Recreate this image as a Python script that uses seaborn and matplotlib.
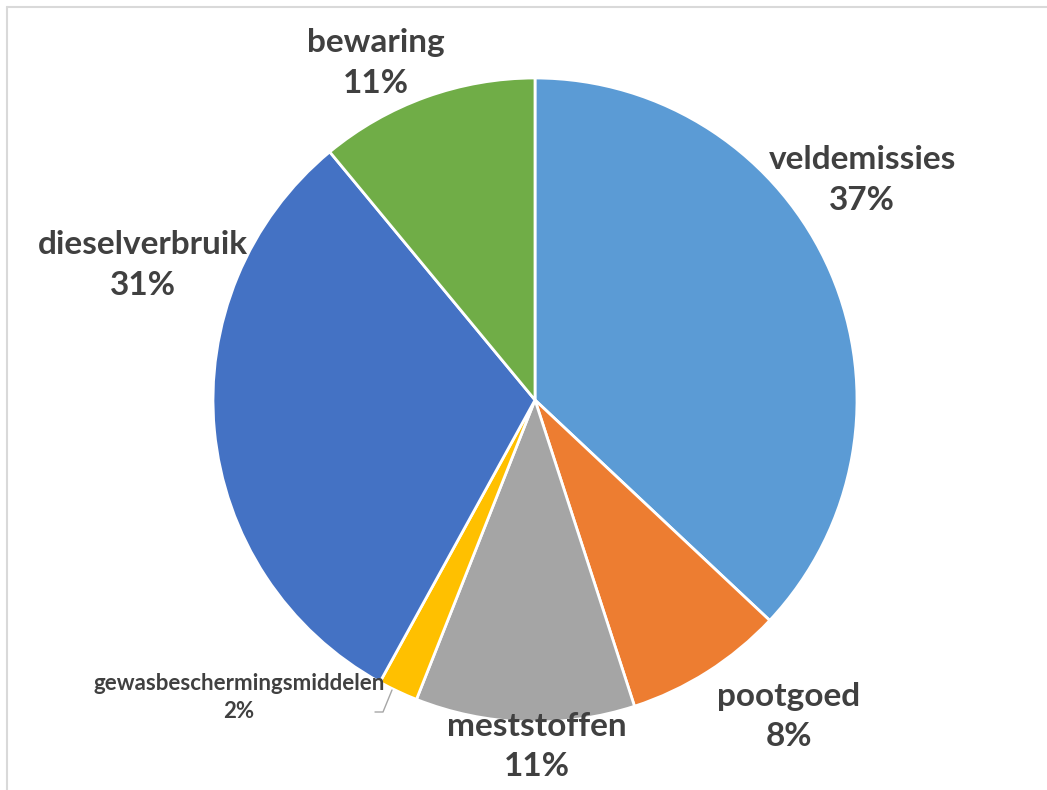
import matplotlib
matplotlib.use("Agg")
import matplotlib.pyplot as plt
import seaborn as sns
from matplotlib.lines import Line2D

# Emission sources and their share (%)
categories = ["veldemissies", "pootgoed", "meststoffen",
              "gewasbeschermingsmiddelen", "dieselverbruik", "bewaring"]
shares = [37, 8, 11, 2, 31, 11]
colors = ["#5B9BD5", "#ED7D31", "#A5A5A5", "#FFC000", "#4472C4", "#70AD47"]

# Label anchor points (pie data units) and font sizes
label_pos = [(1.016, 0.683), (0.789, -0.984), (0.006, -1.075),
             (-0.919, -0.925), (-1.217, 0.419), (-0.494, 1.047)]
label_size = [24, 24, 24, 16, 24, 24]
label_spacing = [1.47, 1.47, 1.47, 1.42, 1.47, 1.47]

sns.set_theme(style="white")
plt.rcParams["font.family"] = ["Lato", "DejaVu Sans"]

W, H = 1047, 790
fig = plt.figure(figsize=(W / 100, H / 100), dpi=100)
fig.patch.set_facecolor("white")

cx, cy, r = 535, 400, 322
ax = fig.add_axes([(cx - r) / W, (H - cy - r) / H, 2 * r / W, 2 * r / H])
ax.pie(shares, colors=colors, startangle=90, counterclock=False,
       wedgeprops=dict(edgecolor="white", linewidth=2))
ax.set_xlim(-1, 1)
ax.set_ylim(-1, 1)
ax.set_aspect("equal")
ax.axis("off")

for name, val, (x, y), fs, ls in zip(categories, shares, label_pos,
                                     label_size, label_spacing):
    ax.text(x, y, f"{name}\n{val}%", ha="center", va="center",
            fontsize=fs, fontweight="bold", color="#404040",
            linespacing=ls, clip_on=False)

# leader line for the small slice
ax.add_line(Line2D([(392 - cx) / r, (383 - cx) / r, (375 - cx) / r],
                   [(cy - 690) / r, (cy - 712) / r, (cy - 712) / r],
                   color="#A6A6A6", linewidth=1, clip_on=False))

# chart area frame
fig.add_artist(Line2D([6.5 / W, 6.5 / W], [0, 1 - 6.5 / H],
                      transform=fig.transFigure, color="#D9D9D9", linewidth=1.5))
fig.add_artist(Line2D([6.5 / W, 1], [1 - 6.5 / H, 1 - 6.5 / H],
                      transform=fig.transFigure, color="#D9D9D9", linewidth=1.5))

fig.savefig("out.png", dpi=100, facecolor="white")
